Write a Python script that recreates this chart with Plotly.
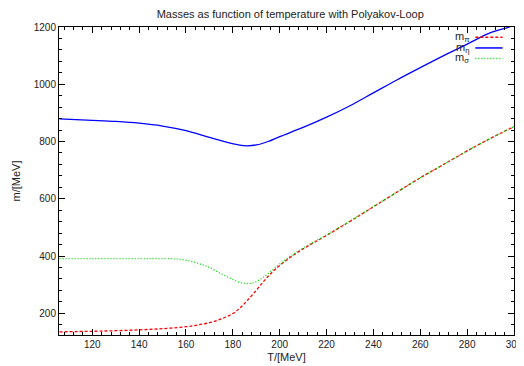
import plotly.graph_objects as go

# Temperature grid (MeV) and masses (MeV)
T_pi = [106, 120, 130, 140, 150, 160, 165, 170, 175, 180, 183, 186, 190, 193, 196, 200, 205, 210,
        220, 230, 240, 250, 260, 270, 280, 290, 300]
m_pi = [135, 137, 139, 142, 146, 153, 159, 167, 180, 199, 218, 243, 280, 310, 337, 367, 398, 425,
        472, 521, 572, 623, 673, 720, 767, 811, 852]

T_eta = [106, 120, 130, 140, 150, 160, 170, 178, 182, 186, 190, 195, 200, 210, 220, 230, 240, 250,
         260, 270, 280, 290, 298, 300]
m_eta = [879, 874, 870, 864, 854, 838, 814, 796, 789, 785, 788, 800, 817, 849, 885, 925, 970, 1015,
         1058, 1100, 1140, 1180, 1200, 1208]

T_sigma = [106, 120, 140, 150, 157, 162, 166, 170, 175, 180, 183, 186, 189, 192, 196, 200, 205, 210,
           220, 230, 240, 250, 260, 270, 280, 290, 300]
m_sigma = [391, 391, 391, 391, 389, 382, 372, 360, 338, 318, 308, 304, 307, 320, 345, 372, 402, 428,
           474, 522, 573, 623, 673, 720, 767, 811, 852]

labels = ["m<sub>π</sub>", "m<sub>η</sub>", "m<sub>σ</sub>"]
colors = ["#ff0000", "#0000ff", "#00dd00"]
dashes = ["3px,2px", "solid", "1px,2px"]

x_range = [105.8, 300]
y_range = [124, 1200]

fig = go.Figure()
for T, m, name, c, d in [(T_pi, m_pi, labels[0], colors[0], dashes[0]),
                         (T_eta, m_eta, labels[1], colors[1], dashes[1]),
                         (T_sigma, m_sigma, labels[2], colors[2], dashes[2])]:
    fig.add_trace(go.Scatter(x=T, y=m, mode="lines", name=name,
                             line=dict(color=c, width=1.3, dash=d, shape="spline", smoothing=1.0),
                             showlegend=False))
# empty trace that carries the minor-tick overlay axes
fig.add_trace(go.Scatter(x=[], y=[], xaxis="x2", yaxis="y2", showlegend=False, hoverinfo="skip"))

fam = "Liberation Sans, Arial, sans-serif"
font = dict(family=fam, size=10, color="#222222")

# gnuplot-style key: label on the left, sample line on the right
key_y = [0.967, 0.932, 0.898]
for lab, c, d, yy in zip(labels, colors, dashes, key_y):
    fig.add_annotation(x=0.905, y=yy, xref="paper", yref="paper", text=lab, showarrow=False,
                       xanchor="right", yanchor="middle", font=dict(family=fam, size=11, color="#222222"))
    fig.add_shape(type="line", xref="paper", yref="paper", x0=0.915, x1=0.975, y0=yy, y1=yy,
                  line=dict(color=c, width=1.5, dash=d))

axis_common = dict(showgrid=False, zeroline=False, showline=True, linecolor="black", linewidth=1,
                   mirror="allticks", ticks="inside", ticklen=6, tickcolor="black", tickwidth=1,
                   tickfont=font, ticklabeloverflow="allow", automargin=False)
minor_common = dict(showgrid=False, zeroline=False, showline=False, mirror="allticks",
                    ticks="inside", ticklen=3, tickcolor="black", tickwidth=1, showticklabels=False,
                    automargin=False)

# the page body adds an 8px margin, so the figure is 8px smaller and margins shifted
fig.update_layout(
    width=516, height=358,
    margin=dict(l=51, r=10, t=19, b=31, autoexpand=False),
    paper_bgcolor="white", plot_bgcolor="white",
    title=dict(text="Masses as function of temperature with Polyakov-Loop", x=0.547, xanchor="center",
               y=0.984, yanchor="middle", font=dict(family=fam, size=11, color="#222222")),
    xaxis=dict(range=x_range, tick0=120, dtick=20,
               title=dict(text="T/[MeV]", font=dict(family=fam, size=11, color="#222222"), standoff=4),
               **axis_common),
    yaxis=dict(range=y_range, tick0=200, dtick=200,
               title=dict(text="m/[MeV]", font=dict(family=fam, size=11, color="#222222"), standoff=10),
               **axis_common),
    xaxis2=dict(range=x_range, tick0=120, dtick=4, overlaying="x", anchor="y2", side="bottom", **minor_common),
    yaxis2=dict(range=y_range, tick0=200, dtick=40, overlaying="y", anchor="x2", side="left", **minor_common),
)

fig.write_html("out.html")
